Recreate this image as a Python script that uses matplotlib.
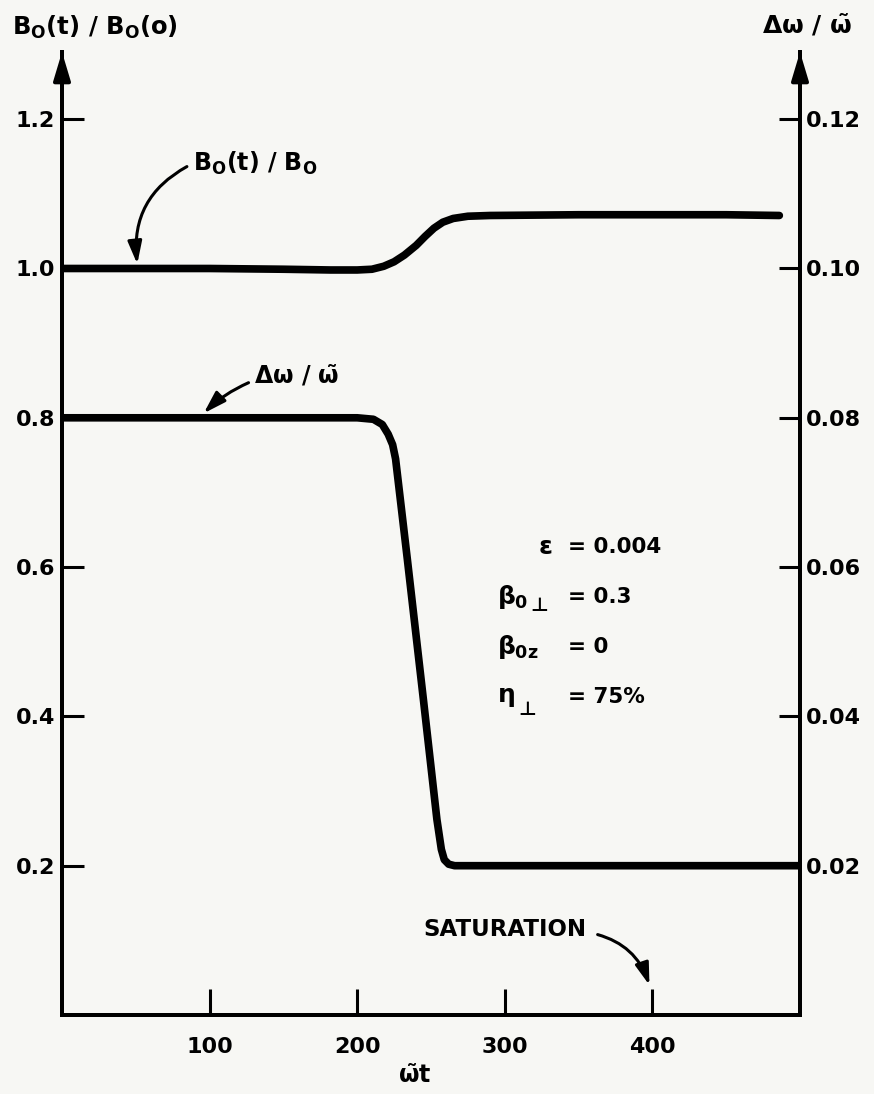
import matplotlib
matplotlib.use('Agg')
import matplotlib.pyplot as plt

plt.rcParams['font.family'] = ['DejaVu Sans']
plt.rcParams['font.weight'] = 'bold'
plt.rcParams['mathtext.fontset'] = 'custom'
plt.rcParams['mathtext.rm'] = 'DejaVu Sans:bold'
plt.rcParams['mathtext.it'] = 'DejaVu Sans:bold'
plt.rcParams['mathtext.bf'] = 'DejaVu Sans:bold'

# B0(t)/B0(0), left axis
t_b = [0, 50, 100, 150, 182, 200, 210, 218, 225, 232, 240, 246, 252, 258, 265, 275, 290, 350, 400, 450, 486]
b_ratio = [1.0, 1.0, 1.0, 0.999, 0.998, 0.998, 0.999, 1.003, 1.009, 1.018, 1.031, 1.043, 1.054, 1.062,
           1.067, 1.070, 1.071, 1.072, 1.072, 1.072, 1.071]

# delta omega / omega~, right axis
t_w = [0, 50, 100, 150, 200, 211, 217, 221, 224, 226, 234, 245, 254, 257, 259, 262, 266, 275, 300, 400, 500]
dw = [0.080, 0.080, 0.080, 0.080, 0.080, 0.0798, 0.0791, 0.0778, 0.0764, 0.0745, 0.0610, 0.0420,
      0.0262, 0.0222, 0.0208, 0.0202, 0.0200, 0.0200, 0.0200, 0.0200, 0.0200]

x_ticks = [100, 200, 300, 400]
left_ticks = [0.2, 0.4, 0.6, 0.8, 1.0, 1.2]
right_ticks = [0.02, 0.04, 0.06, 0.08, 0.10, 0.12]

params_lhs = [r'$\epsilon$', r'$\beta_{0}$', r'$\beta_{0z}$', r'$\eta$']
params_perp = [False, True, False, True]
params_rhs = ['= 0.004', '= 0.3', '= 0', '= 75%']

W, H = 874, 1094
bg = '#f7f7f4'
fig = plt.figure(figsize=(W / 100, H / 100), dpi=100, facecolor=bg)
ax = fig.add_axes([62 / W, 1 - 1015 / H, (800 - 62) / W, (1015 - 52) / H])
ax.set_facecolor(bg)
ax2 = ax.twinx()

ax.set_xlim(0, 500)
ax.set_ylim(0, 1.29)
ax2.set_ylim(0, 0.129)

lw_axis = 2.8
for a in (ax, ax2):
    a.spines['top'].set_visible(False)
    for s in ('left', 'right', 'bottom'):
        a.spines[s].set_linewidth(lw_axis)

ax.plot(t_b, b_ratio, color='black', lw=5.5, solid_capstyle='round', solid_joinstyle='round', zorder=3)
ax2.plot(t_w, dw, color='black', lw=5.5, solid_capstyle='round', solid_joinstyle='round', zorder=3)

ax.set_xticks(x_ticks)
ax.set_xticklabels([str(v) for v in x_ticks])
ax.set_yticks(left_ticks)
ax.set_yticklabels([f'{v:.1f}' for v in left_ticks])
ax2.set_yticks(right_ticks)
ax2.set_yticklabels([f'{v:.2f}' for v in right_ticks])

ax.tick_params(axis='x', direction='in', length=19, width=2.2, pad=16, labelsize=16)
ax.tick_params(axis='y', direction='in', length=16, width=2.2, pad=5, labelsize=16)
ax2.tick_params(axis='y', direction='in', length=15, width=2.2, pad=4, labelsize=16)

# arrows on top of the vertical axes
for xa in (0, 1):
    ax.annotate('', xy=(xa, 1.0), xytext=(xa, 0.97), xycoords='axes fraction',
                arrowprops=dict(arrowstyle='-|>,head_length=1.0,head_width=0.3', lw=lw_axis,
                                color='black', mutation_scale=17, shrinkA=0, shrinkB=0),
                annotation_clip=False)

# axis titles
fig.text(12 / W, 1 - 27 / H, r'B$_\mathrm{O}$(t) / B$_\mathrm{O}$(o)', fontsize=17.5, ha='left', va='center')
fig.text(762 / W, 1 - 25 / H, r'$\Delta\omega$ / $\tilde{\omega}$', fontsize=18, ha='left', va='center')
fig.text(415 / W, 1 - 1076 / H, r'$\tilde{\omega}$t', fontsize=17, ha='center', va='center')

# curve annotations
ax.annotate(r'B$_\mathrm{O}$(t) / B$_\mathrm{O}$', xy=(51, 1.006), xytext=(89, 1.141),
            fontsize=17, ha='left', va='center',
            arrowprops=dict(arrowstyle='-|>,head_length=0.8,head_width=0.25', lw=2.2, color='black',
                            connectionstyle='arc3,rad=0.35', relpos=(0, 0.5), shrinkA=3, shrinkB=0))
ax.annotate(r'$\Delta\omega$ / $\tilde{\omega}$', xy=(96, 0.806), xytext=(130, 0.857),
            fontsize=17, ha='left', va='center',
            arrowprops=dict(arrowstyle='-|>,head_length=0.8,head_width=0.25', lw=2.2, color='black',
                            connectionstyle='arc3,rad=0.1', relpos=(0, 0.3), shrinkA=2, shrinkB=0))
ax.annotate('SATURATION', xy=(398, 0.04), xytext=(245, 0.114),
            fontsize=16.5, ha='left', va='center',
            arrowprops=dict(arrowstyle='-|>,head_length=0.8,head_width=0.25', lw=2.2, color='black',
                            connectionstyle='arc3,rad=-0.3', relpos=(1, 0.4), shrinkA=6, shrinkB=0))

# parameter block
lhs_x = [322.5, 294.7, 294.7, 294.7]
perp_x = [0, 317.5, 0, 309.5]
perp_dy = [0, 0.011, 0, 0.016]
row_y = [0.627, 0.560, 0.493, 0.4255]
for lhs, perp, rhs, lx, px, dy, yy in zip(params_lhs, params_perp, params_rhs, lhs_x, perp_x, perp_dy, row_y):
    ax.text(lx, yy, lhs, fontsize=18, ha='left', va='center')
    if perp:
        ax.text(px, yy - dy, '\u22a5', fontsize=14, ha='left', va='center',
                family=['DejaVu Sans', 'Noto Sans CJK SC', 'Noto Sans'])
    ax.text(342.8, yy, rhs, fontsize=15.5, ha='left', va='center')

fig.savefig('out.png', dpi=100, facecolor=bg)
